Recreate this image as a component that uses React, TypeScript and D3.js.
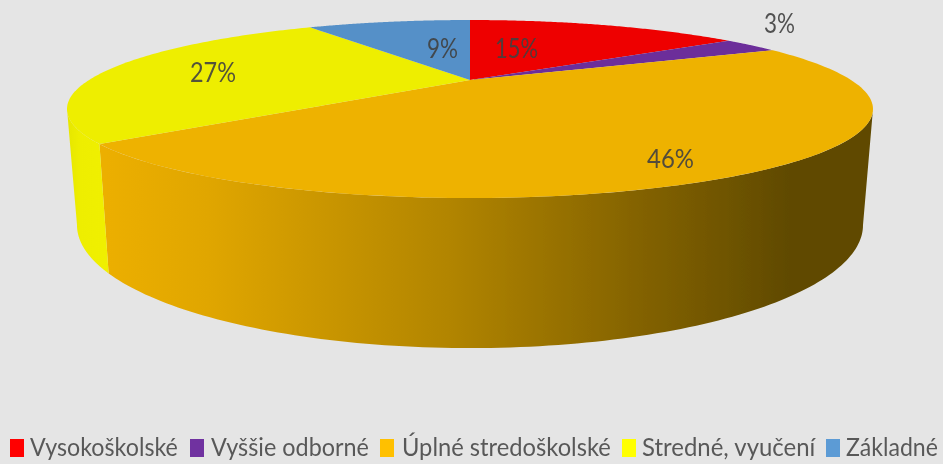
import React from "react";
import * as d3 from "d3";

const categories = ["Vysokoškolské", "Vyššie odborné", "Úplné stredoškolské", "Stredné, vyučení", "Základné"];
const values = [15, 3, 46, 27, 9];
const topColors = ["#EE0000", "#6C2D9A", "#EEB200", "#EEEE00", "#5590C8"];
const legendColors = ["#FF0000", "#7030A0", "#FFC000", "#FFFF00", "#5B9BD5"];

const W = 943, H = 464;
const K = 0.326;
const TILT = Math.sqrt(1 - K * K);
const project = (cy: number, rx: number, ry: number) => (t: number): [number, number] => {
  const u = Math.sin(t), v = -Math.cos(t);
  const w = 1 + K * -v;
  return [470 + (rx * TILT * u) / w, cy + (ry * TILT * TILT * v) / w];
};
const topP = project(80, 403, 89);
const botP = project(185, 393, 123);
const samples = (a0: number, a1: number) => d3.range(0, 121).map((i) => a0 + ((a1 - a0) * i) / 120);
const line = d3.line();

const arcs = d3.pie<number>().sort(null)(values);
const sideLimit = Math.acos(-K);
const sides = [
  { start: sideLimit, end: arcs[2].endAngle, fill: "url(#orangeSide)" },
  { start: arcs[3].startAngle, end: 2 * Math.PI - sideLimit, fill: "url(#yellowSide)" },
];

const labelPos = [
  [516.5, 58], [779.5, 33], [670.5, 168], [213, 82], [442.5, 58],
];
const labelLen = [43, 31, 47, 46, 31];
const legendSwatchX = [10, 190, 380, 622, 826];
const legendTextX = [30, 211, 402, 642, 846];
const legendTextLen = [148, 158, 209, 174, 92];

const measureCtx = document.createElement("canvas").getContext("2d")!;
const fitScale = (text: string, size: number, target: number) => {
  measureCtx.font = `${size}px Lato`;
  return target / measureCtx.measureText(text).width;
};

export default function App() {
  return (
    <svg width={W} height={H} style={{ position: "absolute", left: 0, top: 0, display: "block" }}>
      <defs>
        <linearGradient id="orangeSide" gradientUnits="userSpaceOnUse" x1={105} x2={790} y1={0} y2={0}>
          <stop offset="0" stopColor="#ECAF00" />
          <stop offset="0.15" stopColor="#E0A600" />
          <stop offset="0.5" stopColor="#B28500" />
          <stop offset="0.8" stopColor="#806000" />
          <stop offset="1" stopColor="#604A00" />
        </linearGradient>
        <linearGradient id="yellowSide" gradientUnits="userSpaceOnUse" x1={67} x2={110} y1={0} y2={0}>
          <stop offset="0" stopColor="#E6E600" />
          <stop offset="0.3" stopColor="#EEEE00" />
          <stop offset="1" stopColor="#F0F000" />
        </linearGradient>
        <filter id="soft" x="0" y="0" width="100%" height="100%">
          <feGaussianBlur stdDeviation="0.45" />
        </filter>
      </defs>
      <rect width={W} height={H} fill="#E5E5E5" />
      <g filter="url(#soft)">
        {sides.map((s, i) => (
          <path
            key={i}
            fill={s.fill}
            d={(line([...samples(s.start, s.end).map(topP), ...samples(s.end, s.start).map(botP)]) ?? "") + "Z"}
          />
        ))}
        {arcs.map((a, i) => (
          <path
            key={i}
            fill={topColors[i]}
            d={(line([[470, 80], ...samples(a.startAngle, a.endAngle).map(topP)]) ?? "") + "Z"}
          />
        ))}
        {values.map((v, i) => (
          <text
            key={i}
            transform={`translate(${labelPos[i][0]},${labelPos[i][1]}) scale(${fitScale(`${v}%`, 27.5, labelLen[i])},1)`}
            textAnchor="middle"
            fontFamily="Lato"
            fontSize={27.5}
            fill="#404040"
            fillOpacity={0.9}
          >
            {v}%
          </text>
        ))}
        {categories.map((c, i) => (
          <g key={c}>
            <rect x={legendSwatchX[i]} y={439} width={14} height={18} fill={legendColors[i]} />
            <text
              transform={`translate(${legendTextX[i]},456) scale(${fitScale(c, 25, legendTextLen[i])},1)`}
              fontFamily="Lato"
              fontSize={25}
              fill="#595959"
            >
              {c}
            </text>
          </g>
        ))}
      </g>
    </svg>
  );
}
